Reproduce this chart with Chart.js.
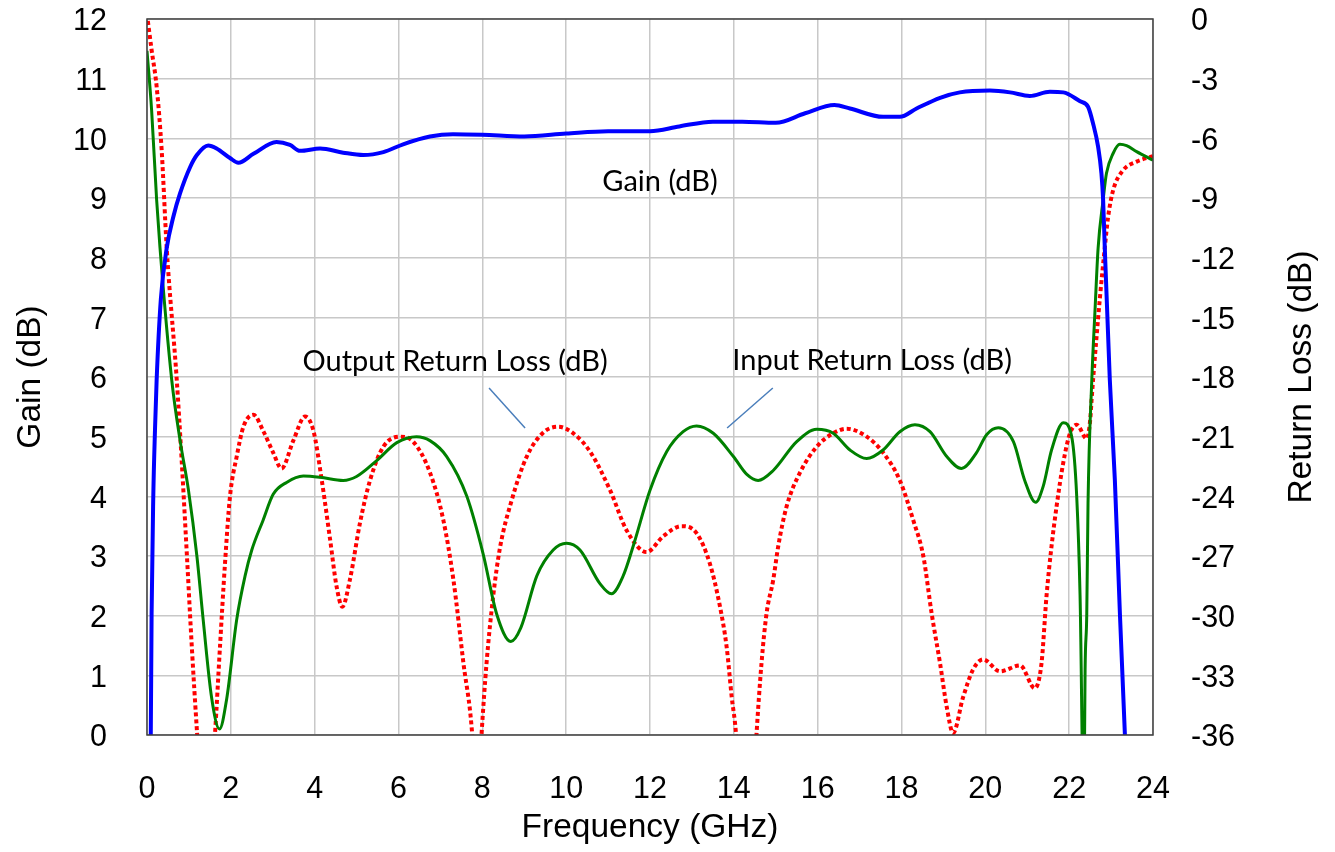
<!DOCTYPE html>
<html>
<head>
<meta charset="utf-8">
<script src="https://cdn.jsdelivr.net/npm/chart.js@4.4.1/dist/chart.umd.min.js"></script>
<style>
  html, body { margin: 0; background: #fff; }
</style>
</head>
<body>
<canvas id="chart" width="1335" height="852"></canvas>
<script>
// ticks
const freqTicks = [0, 2, 4, 6, 8, 10, 12, 14, 16, 18, 20, 22, 24]
const gainTicks = [0, 1, 2, 3, 4, 5, 6, 7, 8, 9, 10, 11, 12]
const rlTicks   = [-36, -33, -30, -27, -24, -21, -18, -15, -12, -9, -6, -3, 0]

// Gain (dB), left axis
const gainFreq = [0.06, 0.09, 0.11, 0.15, 0.19, 0.23, 0.33, 0.47, 0.63, 0.79, 1.03, 1.19, 1.46, 1.66, 1.98, 2.18, 2.54, 3.09, 3.41, 3.65, 4.13, 4.68, 5.16, 5.64, 6.11, 6.75, 7.3, 8, 9, 10, 11, 12, 12.7, 13.5, 14.2, 15, 15.7, 16.4, 16.77, 17.56, 17.96, 18.36, 18.92, 19.39, 20.11, 20.59, 21.06, 21.54, 21.86, 22.26, 22.45, 22.57, 22.69, 22.77, 22.81, 22.85, 22.97, 23.09, 23.21, 23.33, 23.4]
const gainDb   = [-1, 0, 2.05, 4.0, 5.1, 5.95, 7.3, 8.16, 8.69, 9.08, 9.52, 9.72, 9.88, 9.83, 9.67, 9.59, 9.74, 9.94, 9.89, 9.79, 9.83, 9.76, 9.72, 9.77, 9.9, 10.03, 10.07, 10.06, 10.03, 10.08, 10.12, 10.12, 10.2, 10.28, 10.28, 10.26, 10.42, 10.56, 10.5, 10.36, 10.36, 10.5, 10.68, 10.77, 10.8, 10.77, 10.71, 10.78, 10.77, 10.62, 10.53, 10.25, 9.86, 9.41, 8.97, 8.16, 5.95, 4.27, 2.04, 0, -1]

// Input Return Loss (dB), right axis
const inFreq = [0, 0.11, 0.23, 0.31, 0.59, 0.79, 0.99, 1.19, 1.34, 1.54, 1.73, 1.9, 2.14, 2.34, 2.5, 2.77, 3.01, 3.33, 3.73, 4.13, 4.68, 5.0, 5.48, 5.96, 6.43, 6.75, 7.15, 7.63, 8.02, 8.34, 8.68, 8.92, 9.3, 9.69, 10.01, 10.33, 10.81, 11.08, 11.36, 11.6, 12.0, 12.4, 12.79, 13.11, 13.51, 13.99, 14.31, 14.58, 14.94, 15.5, 15.98, 16.37, 16.77, 17.17, 17.56, 17.96, 18.32, 18.68, 19.08, 19.43, 19.79, 20.03, 20.31, 20.67, 20.94, 21.2, 21.38, 21.58, 21.86, 22.06, 22.18, 22.26, 22.35, 22.38, 22.42, 22.45, 22.54, 22.62, 22.69, 22.81, 22.89, 23.05, 23.21, 23.37, 23.61, 24]
const inRL   = [-1.6, -4.58, -9.1, -11.5, -18.15, -21.2, -23.7, -27.0, -30.2, -34.1, -35.7, -34.2, -30.2, -28.0, -26.7, -25.2, -23.9, -23.3, -22.98, -23.04, -23.2, -23.0, -22.2, -21.3, -21.0, -21.2, -22.0, -24.0, -26.9, -29.9, -31.3, -30.6, -28.0, -26.7, -26.36, -26.7, -28.4, -28.9, -28.0, -26.5, -23.7, -21.75, -20.75, -20.46, -20.83, -22.0, -22.9, -23.2, -22.7, -21.25, -20.63, -20.83, -21.67, -22.1, -21.67, -20.75, -20.4, -20.75, -22.0, -22.6, -21.8, -20.9, -20.55, -21.25, -23.2, -24.3, -23.5, -21.67, -20.3, -21.0, -24.0, -29.0, -40, -32.7, -29.9, -24.35, -18.15, -14.5, -11.53, -9.1, -7.76, -6.75, -6.3, -6.37, -6.67, -7.1]

// Output Return Loss (dB), right axis
const outFreq = [0.02, 0.11, 0.23, 0.35, 0.47, 0.71, 0.83, 0.95, 1.07, 1.19, 1.4, 1.62, 1.74, 1.86, 1.98, 2.14, 2.3, 2.54, 2.77, 3.01, 3.21, 3.49, 3.77, 3.97, 4.17, 4.37, 4.52, 4.66, 4.84, 5.08, 5.32, 5.64, 6.04, 6.35, 6.75, 7.07, 7.31, 7.55, 7.75, 7.87, 7.98, 8.1, 8.26, 8.42, 8.7, 9.06, 9.45, 9.81, 10.17, 10.57, 11.05, 11.44, 11.92, 12.32, 12.75, 13.11, 13.43, 13.67, 13.83, 13.95, 14.05, 14.3, 14.54, 14.66, 14.78, 14.94, 15.06, 15.26, 15.58, 15.98, 16.37, 16.69, 17.17, 17.56, 17.96, 18.28, 18.52, 18.72, 18.92, 19.08, 19.23, 19.47, 19.71, 19.95, 20.35, 20.83, 21.18, 21.34, 21.46, 21.58, 21.7, 21.86, 22.02, 22.18, 22.42, 22.5, 22.54, 22.57, 22.73, 22.85, 22.93, 23.05, 23.29, 23.61, 24]
const outRL   = [-0.1, -1.56, -3.4, -6.6, -11.5, -18.15, -22.3, -26.9, -31.6, -35.75, -42, -36, -31.6, -27.4, -24.0, -22.0, -20.5, -19.9, -20.7, -21.8, -22.6, -21.2, -19.99, -20.7, -23.2, -26.2, -28.5, -29.55, -28.2, -25.35, -23.2, -21.5, -21.0, -21.25, -22.8, -25.2, -28.2, -32.4, -35.75, -40, -36, -32.4, -29.0, -26.6, -24.2, -22.0, -20.8, -20.5, -20.83, -21.75, -23.7, -25.7, -26.8, -26.0, -25.5, -25.85, -27.4, -29.55, -31.6, -34.1, -35.9, -45, -36, -32.4, -29.9, -28.2, -26.5, -24.5, -22.8, -21.5, -20.83, -20.6, -21.0, -21.8, -23.2, -25.2, -27.0, -29.9, -32.4, -34.6, -35.9, -34.1, -32.7, -32.2, -32.8, -32.5, -33.65, -32.4, -29.0, -26.5, -24.5, -22.3, -20.83, -20.4, -21.1, -20.2, -19.0, -18.15, -14.1, -11.5, -9.94, -8.6, -7.6, -7.17, -6.9]

const zip = (xs, ys) => xs.map((x, i) => ({ x, y: ys[i] }))

// in-plot labels, placed in data units (GHz, gain dB)
const NOTES = [
  { text: 'Gain (dB)',               f: 12.24, g: 9.27 },
  { text: 'Output Return Loss (dB)', f: 7.35,  g: 6.25 },
  { text: 'Input Return Loss (dB)',  f: 17.3,  g: 6.28 },
]
const LEADERS = [
  [8.16, 5.815, 9.02, 5.145],
  [13.84, 5.145, 14.93, 5.815],
]

const TICK_FONT  = { family: '"Liberation Sans", Arial, sans-serif', size: 30.5 }
const TITLE_FONT = { family: '"Liberation Sans", Arial, sans-serif', size: 33.5 }

const overlay = {
  id: 'overlay',
  afterDatasetsDraw(chart) {
    const { ctx, chartArea: a, scales: { x, y } } = chart
    ctx.save()
    ctx.strokeStyle = '#404040'
    ctx.lineWidth = 1.5
    ctx.strokeRect(a.left, a.top, a.right - a.left, a.bottom - a.top)

    ctx.strokeStyle = '#4a7ebb'
    ctx.lineWidth = 1.5
    LEADERS.forEach(([f1, g1, f2, g2]) => {
      ctx.beginPath()
      ctx.moveTo(x.getPixelForValue(f1), y.getPixelForValue(g1))
      ctx.lineTo(x.getPixelForValue(f2), y.getPixelForValue(g2))
      ctx.stroke()
    })

    ctx.fillStyle = '#000'
    ctx.font = '29px Lato, "Open Sans", sans-serif'
    ctx.textAlign = 'center'
    ctx.textBaseline = 'middle'
    NOTES.forEach(n => ctx.fillText(n.text, x.getPixelForValue(n.f), y.getPixelForValue(n.g)))

    ctx.font = `${TITLE_FONT.size}px ${TITLE_FONT.family}`
    ctx.translate(chart.width - 33, (a.top + a.bottom) / 2)
    ctx.rotate(-Math.PI / 2)
    ctx.fillText('Return Loss (dB)', 0, 0)
    ctx.restore()
  }
}

const setTicks = list => scale => { scale.ticks = list.map(v => ({ value: v })) }
const noPad = s => { s.paddingTop = 0; s.paddingBottom = 0; s.paddingLeft = 0; s.paddingRight = 0 }

new Chart(document.getElementById('chart'), {
  type: 'line',
  data: {
    datasets: [
      { label: 'Gain (dB)', data: zip(gainFreq, gainDb), yAxisID: 'y',
        borderColor: '#0000ff', borderWidth: 4 },
      { label: 'Input Return Loss (dB)', data: zip(inFreq, inRL), yAxisID: 'y2',
        borderColor: '#008000', borderWidth: 3 },
      { label: 'Output Return Loss (dB)', data: zip(outFreq, outRL), yAxisID: 'y2',
        borderColor: '#ff0000', borderWidth: 4, borderDash: [4, 3] },
    ],
  },
  options: {
    responsive: false,
    animation: false,
    layout: { padding: { top: 19, left: 0, right: 0, bottom: 0 } },
    elements: { point: { radius: 0 }, line: { cubicInterpolationMode: 'monotone' } },
    plugins: { legend: { display: false }, tooltip: { enabled: false } },
    scales: {
      x: {
        type: 'linear', min: 0, max: 24,
        afterBuildTicks: setTicks(freqTicks),
        afterFit: s => { noPad(s); s.height = 117 },
        grid: { color: '#c8c8c8', lineWidth: 1.5, drawTicks: false },
        border: { display: false },
        ticks: { font: TICK_FONT, color: '#000', padding: 36, maxRotation: 0 },
        title: { display: true, text: 'Frequency (GHz)', font: TITLE_FONT, color: '#000', padding: { top: 0, bottom: 4 } },
      },
      y: {
        position: 'left', min: 0, max: 12,
        afterBuildTicks: setTicks(gainTicks),
        afterFit: s => { noPad(s); s.width = 147 },
        grid: { color: '#c8c8c8', lineWidth: 1.5, drawTicks: false },
        border: { display: false },
        ticks: { font: TICK_FONT, color: '#000', padding: 40, labelOffset: 3 },
        title: { display: true, text: 'Gain (dB)', font: TITLE_FONT, color: '#000', padding: { top: 11, bottom: 0 } },
      },
      y2: {
        position: 'right', min: -36, max: 0,
        afterBuildTicks: setTicks(rlTicks),
        afterFit: s => { noPad(s); s.width = 182 },
        grid: { drawOnChartArea: false, drawTicks: false },
        border: { display: false },
        ticks: { font: TICK_FONT, color: '#000', padding: 38, labelOffset: 3 },
      },
    },
  },
  plugins: [overlay],
})
</script>
</body>
</html>
